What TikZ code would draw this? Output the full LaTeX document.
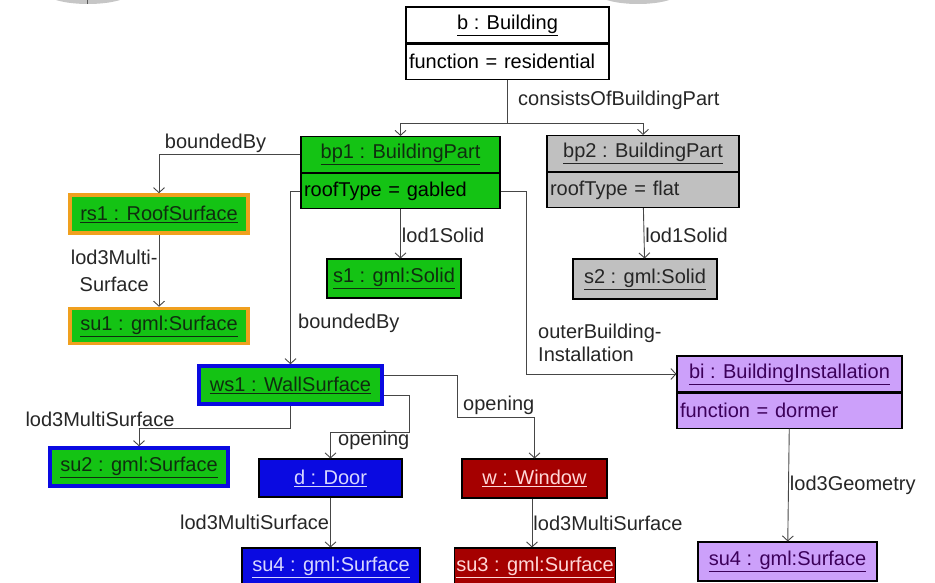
\documentclass[tikz,border=0pt]{standalone}
\usepackage{fontspec}
\setmainfont{Liberation Sans}
\usetikzlibrary{positioning,arrows.meta,calc}

\definecolor{partgreen}{RGB}{20,195,20}
\definecolor{partgrey}{RGB}{192,192,192}
\definecolor{wallblue}{RGB}{10,10,225}
\definecolor{winred}{RGB}{165,0,0}
\definecolor{instlilac}{RGB}{204,160,250}
\definecolor{rooforange}{RGB}{240,160,30}
\definecolor{linkgrey}{RGB}{70,70,70}
\definecolor{greentext}{RGB}{15,45,15}
\definecolor{bluetext}{RGB}{215,215,255}
\definecolor{redtext}{RGB}{255,215,215}
\definecolor{lilactext}{RGB}{60,0,90}

\tikzset{
  obj/.style={draw=black, line width=1.1pt, minimum height=36pt, inner sep=2pt},
  attr/.style={draw=black, line width=1.1pt, minimum height=35pt, inner xsep=3pt, inner ysep=2pt, align=left},
  link/.style={draw=linkgrey, line width=0.9pt, -{Straight Barb[length=5pt,width=11pt]}},
  lbl/.style={inner sep=1pt, text=black!85}
}

\begin{document}
\begin{tikzpicture}[x=1pt, y=-1pt, font=\fontsize{20}{23}\selectfont]
  \useasboundingbox (0,0) rectangle (935,583);

  % cut-off icons at the top edge
  \fill[gray!45] (88,-8) ellipse [x radius=43, y radius=12];
  \draw[gray!70!black, line width=1pt] (87,0) -- (87,4);
  \fill[gray!45] (638,-8) ellipse [x radius=42, y radius=12];

  % building and its parts
  \node[obj, fill=white, minimum width=203pt] (b) at (507.5,25) {\underline{b : Building}};
  \node[attr, fill=white, text width=197pt, below=0pt of b] (battr) {function = residential};

  \node[obj, fill=partgreen, text=greentext, minimum width=199pt] (bp1) at (400.5,154.5) {\underline{bp1 : BuildingPart}};
  \node[attr, fill=partgreen, text=black, text width=193pt, below=0pt of bp1] (bp1attr) {roofType = gabled};

  \node[obj, fill=partgrey, text=black!85, minimum width=192pt] (bp2) at (643,153.5) {\underline{bp2 : BuildingPart}};
  \node[attr, fill=partgrey, text=black!85, text width=186pt, below=0pt of bp2] (bp2attr) {roofType = flat};

  \node[obj, fill=instlilac, text=lilactext, minimum width=225pt] (bi) at (789.5,374) {\underline{bi : BuildingInstallation}};
  \node[attr, fill=instlilac, text=lilactext, text width=219pt, below=0pt of bi] (biattr) {function = dormer};

  % geometry and boundary objects
  \node[obj, fill=partgreen, text=greentext, draw=rooforange, line width=3.5pt, minimum width=178pt, minimum height=38pt] (rs1) at (159,214) {\underline{rs1 : RoofSurface}};
  \node[obj, fill=partgreen, text=greentext, draw=rooforange, line width=3.5pt, minimum width=178pt, minimum height=35pt] (su1) at (159,326) {\underline{su1 : gml:Surface}};
  \node[obj, fill=partgreen, text=greentext, minimum width=134pt, minimum height=39pt] (s1) at (394,278.5) {\underline{s1 : gml:Solid}};
  \node[obj, fill=partgrey, text=black!85, minimum width=144pt, minimum height=40pt] (s2) at (645,279) {\underline{s2 : gml:Solid}};

  \node[obj, fill=partgreen, text=greentext, draw=wallblue, line width=3.5pt, minimum width=183pt, minimum height=38pt] (ws1) at (290.5,385) {\underline{ws1 : WallSurface}};
  \node[obj, fill=partgreen, text=greentext, draw=wallblue, line width=3.5pt, minimum width=178pt, minimum height=38pt] (su2) at (139,467) {\underline{su2 : gml:Surface}};

  \node[obj, fill=wallblue, text=bluetext, minimum width=143pt, minimum height=38pt] (d) at (330.5,478) {\underline{d : Door}};
  \node[obj, fill=winred, text=redtext, minimum width=145pt, minimum height=39pt] (w) at (534.5,478.5) {\underline{w : Window}};

  \node[obj, fill=wallblue, text=bluetext, minimum width=178pt, minimum height=38pt] (su4a) at (331,567) {\underline{su4 : gml:Surface}};
  \node[obj, fill=winred, text=redtext, minimum width=146pt, minimum height=38pt] (su3) at (535,567) {\underline{su3 : gml:Surface}};
  \node[obj, fill=instlilac, text=lilactext, minimum width=179pt, minimum height=39pt] (su4b) at (787.5,561.5) {\underline{su4 : gml:Surface}};

  % associations
  \coordinate (cbp) at (507.5,123);
  \draw[link, -] (battr.south) -- (cbp);
  \draw[link] (cbp) -| (bp1.north);
  \draw[link] (cbp) -| (bp2.north);
  \node[lbl, anchor=west] (lcons) at (517,100) {consistsOfBuildingPart};

  \draw[link] (bp1.west) -| node[lbl, pos=0.3, above] {boundedBy} (rs1.north);
  \draw[link] (rs1) -- node[lbl, left, align=center] {lod3Multi-\\[4pt]Surface} (su1);
  \draw[link] (bp1attr.south) -- node[lbl, right, yshift=-2pt] {lod1Solid} (bp1attr.south |- s1.north);
  \draw[link] (bp2attr) -- node[lbl, right, yshift=-2pt] {lod1Solid} (s2);

  \draw[link] (bp1attr.west) -| (ws1.north);
  \node[lbl, anchor=west] (lbound) at (297,323) {boundedBy};

  \draw[link] (bp1attr.east) -| ([xshift=-150pt]bi.west) -- (bi.west);
  \node[lbl, anchor=west, align=left] (louter) at (537,343) {outerBuilding-\\Installation};

  \draw[link] (ws1.south) -- ++(0,23) -| (su2.north);
  \node[lbl] (lws) at (100,419) {lod3MultiSurface};

  \draw[link] ($(ws1.east)+(0,10)$) -| (409,432) -| (d.north);
  \node[lbl, anchor=west] (lopd) at (337,440) {opening};
  \draw[link] ($(ws1.east)+(0,-10)$) -| (457,417) -| (w.north);
  \node[lbl, anchor=west] (lopw) at (462,405) {opening};

  \draw[link] (d) -- node[lbl, left] {lod3MultiSurface} (d |- su4a.north);
  \draw[link] (w.south -| 532,0) -- node[lbl, right] {lod3MultiSurface} (su3.north -| 532,0);
  \draw[link] (biattr) -- node[lbl, right] {lod3Geometry} (su4b);
\end{tikzpicture}
\end{document}
